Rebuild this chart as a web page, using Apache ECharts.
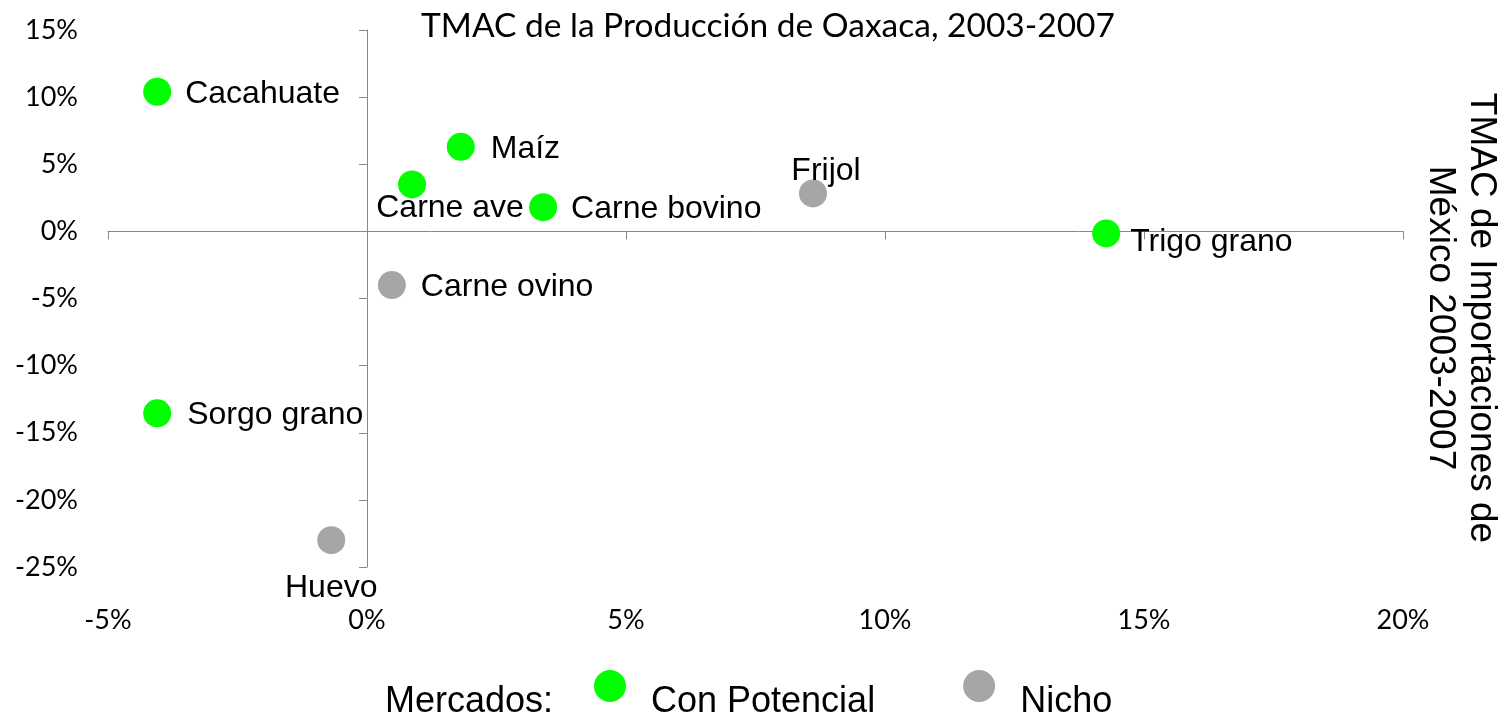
<!DOCTYPE html>
<html>
<head>
<meta charset="utf-8">
<script src="https://cdn.jsdelivr.net/npm/echarts@6/dist/echarts.min.js"></script>
<style>
html,body{margin:0;padding:0;background:#fff;}
#chart{width:1505px;height:718px;}
</style>
</head>
<body>
<div id="chart"></div>
<script>
// ---- data ----
const conPotencialNames = ['Cacahuate', 'Maíz', 'Carne ave', 'Carne bovino', 'Trigo grano', 'Sorgo grano'];
const conPotencialX = [-4.05, 1.81, 0.87, 3.40, 14.27, -4.05];
const conPotencialY = [10.4, 6.3, 3.5, 1.8, -0.15, -13.55];
const nichoNames = ['Frijol', 'Carne ovino', 'Huevo'];
const nichoX = [8.61, 0.48, -0.69];
const nichoY = [2.83, -4.0, -23.0];
const xTickValues = [-5, 0, 5, 10, 15, 20];
const yTickValues = [-25, -20, -15, -10, -5, 0, 5, 10, 15];
const titleText = 'TMAC de la Producción de Oaxaca, 2003-2007';
const yTitleText = 'TMAC de Importaciones de\nMéxico 2003-2007';
const seriesNames = ['Con Potencial', 'Nicho'];
const legendLead = 'Mercados:';

// ---- styles (kept separate from data) ----
const labelPlacement = {
  'Cacahuate': {position: 'right', distance: 14, offset: [0, 2]},
  'Maíz': {position: 'right', distance: 16, offset: [0, 2]},
  'Carne ave': {position: 'inside', offset: [38, 24]},
  'Carne bovino': {position: 'right', distance: 14, offset: [0, 2]},
  'Trigo grano': {position: 'right', distance: 10, offset: [0, 9]},
  'Sorgo grano': {position: 'right', distance: 16, offset: [0, 2]},
  'Frijol': {position: 'inside', offset: [13, -22]},
  'Carne ovino': {position: 'right', distance: 15, offset: [0, 2]},
  'Huevo': {position: 'bottom', distance: 18}
};
const ARIAL = '"Liberation Sans", Arial, sans-serif';
const CAL = 'Lato, "Open Sans", sans-serif';
const axisGray = '#888888';
const GREEN = '#00ff00';
const GRAY = '#a6a6a6';
// legend marker: circle in the top half of a taller box so the text sits lower
const legendDot = 'path://M16,0A16,16,0,1,1,16,32A16,16,0,1,1,16,0ZM0,64L0.01,64L0,64Z';

function buildPoints(names, xs, ys) {
  return names.map((n, i) => ({
    name: n,
    value: [xs[i], ys[i]],
    label: Object.assign({show: true, formatter: n, color: '#000', fontFamily: ARIAL, fontSize: 32}, labelPlacement[n])
  }));
}

const chart = echarts.init(document.getElementById('chart'), null, {renderer: 'canvas'});
const xMin = xTickValues[0], xMax = xTickValues[xTickValues.length - 1];
const yMin = yTickValues[0], yMax = yTickValues[yTickValues.length - 1];
const pct = v => v + '%';

chart.setOption({
  animation: false,
  backgroundColor: '#ffffff',
  title: {
    text: titleText,
    left: 763, top: 4,
    textAlign: 'center',
    textStyle: {fontFamily: CAL, fontSize: 33.5, fontWeight: 'normal', color: '#000'}
  },
  grid: {left: 108, right: 102, top: 30, bottom: 151, containLabel: false, outerBoundsMode: 'none'},
  xAxis: [
    {
      type: 'value', min: xMin, max: xMax, interval: 5, position: 'bottom',
      axisLine: {show: true, onZero: true, onZeroAxisIndex: 0, lineStyle: {color: axisGray, width: 1}},
      axisTick: {show: true, length: 8, lineStyle: {color: axisGray}},
      axisLabel: {show: false},
      splitLine: {show: false}
    },
    {
      type: 'value', min: xMin, max: xMax, interval: 5, position: 'bottom',
      axisLine: {show: false, onZero: false},
      axisTick: {show: false},
      axisLabel: {show: true, margin: 40, formatter: pct, fontFamily: CAL, fontSize: 27, color: '#000'},
      splitLine: {show: false}
    }
  ],
  yAxis: [
    {
      type: 'value', min: yMin, max: yMax, interval: 5, position: 'left',
      axisLine: {show: true, onZero: true, onZeroAxisIndex: 0, lineStyle: {color: axisGray, width: 1}},
      axisTick: {show: true, length: 8, lineStyle: {color: axisGray}},
      axisLabel: {show: false},
      splitLine: {show: false}
    },
    {
      type: 'value', min: yMin, max: yMax, interval: 5, position: 'left',
      axisLine: {show: false, onZero: false},
      axisTick: {show: false},
      axisLabel: {show: true, margin: 30, formatter: pct, fontFamily: CAL, fontSize: 27, color: '#000'},
      splitLine: {show: false}
    }
  ],
  legend: {
    data: [
      {name: seriesNames[0], icon: legendDot},
      {name: seriesNames[1], icon: legendDot}
    ],
    left: 589, top: 665,
    orient: 'horizontal',
    itemWidth: 32, itemHeight: 64,
    itemGap: 88,
    textStyle: {fontFamily: ARIAL, fontSize: 36, color: '#000', padding: [0, 0, 0, 20]}
  },
  graphic: [
    {
      type: 'text', left: 385, top: 684,
      style: {text: legendLead, font: '36px ' + ARIAL, fill: '#000'}
    },
    {
      type: 'text', x: 1461, y: 318, rotation: -Math.PI / 2,
      style: {text: yTitleText, font: '37px ' + ARIAL, fill: '#000', align: 'center', verticalAlign: 'middle', lineHeight: 41}
    }
  ],
  series: [
    {
      name: seriesNames[0], type: 'scatter', xAxisIndex: 0, yAxisIndex: 0,
      symbol: 'circle', symbolSize: 28,
      itemStyle: {color: GREEN, opacity: 1},
      data: buildPoints(conPotencialNames, conPotencialX, conPotencialY),
      z: 3
    },
    {
      name: seriesNames[1], type: 'scatter', xAxisIndex: 0, yAxisIndex: 0,
      symbol: 'circle', symbolSize: 28,
      itemStyle: {color: GRAY, opacity: 1},
      data: buildPoints(nichoNames, nichoX, nichoY),
      z: 3
    }
  ]
});
</script>
</body>
</html>
